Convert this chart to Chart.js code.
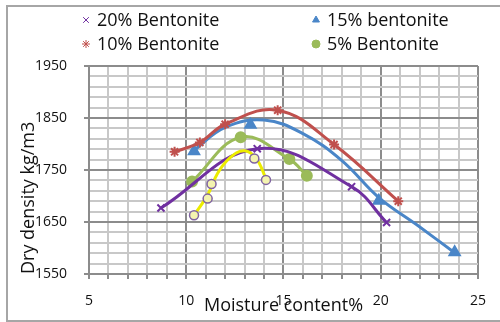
<!DOCTYPE html>
<html>
<head>
<meta charset="utf-8">
<script src="https://cdn.jsdelivr.net/npm/chart.js@4.4.1/dist/chart.umd.min.js"></script>
<style>
  html, body { margin: 0; padding: 0; background: #fff; }
</style>
</head>
<body>
<canvas id="chart" width="500" height="322"></canvas>
<script>
// moisture content (%) and dry density (kg/m3)
const seriesNames = ['20% Bentonite', '15% bentonite', '10% Bentonite', '5% Bentonite', 'Bentonite', 'Trend', '15% curve'];

const moist20 = [8.7, 13.65, 18.5, 20.3];
const dens20  = [1677, 1791, 1718, 1649];

const moist15 = [10.4, 13.3, 19.9, 23.8];
const dens15  = [1786, 1837, 1691, 1592];
// the blue curve does not run through its own markers, so it is read separately
const moist15Line = [10.4, 12.0, 14.0, 16.0, 18.0, 19.9, 21.8, 23.8];
const dens15Line  = [1788, 1832, 1846, 1820, 1768, 1697, 1646, 1591];

const moist10 = [9.4, 10.7, 12.0, 14.7, 17.6, 20.9];
const dens10  = [1785, 1803, 1838, 1865, 1799, 1690];

const moist5 = [10.3, 12.8, 15.3, 16.2];
const dens5  = [1728, 1813, 1771, 1739];

// unlabelled points (purple rings) and the yellow curve drawn over them
const moistY = [10.4, 11.1, 11.3, 13.5, 14.1];
const densY  = [1663, 1695, 1723, 1772, 1731];
const moistYLine = [10.4, 11.1, 11.6, 12.2, 12.97, 13.6, 14.1];
const densYLine  = [1663, 1702, 1743, 1772, 1787, 1772, 1733];

const xTicks = [5, 10, 15, 20, 25];
const yTicks = [1550, 1650, 1750, 1850, 1950];

const pts = (xs, ys) => xs.map((x, i) => ({ x: x, y: ys[i] }));

const purple = '#7030a0';
const blue = '#4a86c8';
const red = '#c0504d';
const green = '#9bbb59';
const yellow = '#ecec00';

const FONT = '"Open Sans", "Noto Sans", sans-serif';
const majorGrid = '#8c8c8c';
const minorGrid = '#c8c8c8';

function series(i, data, color, style, extra) {
  return Object.assign({
    label: seriesNames[i],
    data: data,
    showLine: true,
    tension: 0.4,
    borderColor: color,
    borderWidth: 3,
    backgroundColor: color,
    pointBorderColor: color,
    pointBackgroundColor: color,
    pointStyle: style,
    pointRadius: 5,
    pointBorderWidth: 2
  }, extra || {});
}

// legend in two columns, drawn above the plot
const legendPlugin = {
  id: 'twoColLegend',
  afterDraw(chart) {
    const ctx = chart.ctx;
    const spots = [[86, 20], [316, 20], [86, 44], [316, 44]];
    ctx.save();
    ctx.font = '18px ' + FONT;
    ctx.textBaseline = 'middle';
    for (let i = 0; i < 4; i++) {
      const ds = chart.data.datasets[i];
      const [x, y] = spots[i];
      ctx.strokeStyle = ds.borderColor;
      ctx.fillStyle = ds.borderColor;
      Chart.helpers.drawPoint(ctx, { pointStyle: ds.pointStyle, radius: 4, borderWidth: 2 }, x, y);
      ctx.fillStyle = '#111';
      ctx.fillText(ds.label, x + 11, y + 1);
    }
    ctx.restore();
  }
};

// grey frame round the whole chart
const framePlugin = {
  id: 'frame',
  beforeDraw(chart) {
    const ctx = chart.ctx;
    ctx.save();
    ctx.strokeStyle = '#a6a6a6';
    ctx.lineWidth = 2;
    ctx.strokeRect(7, 6, 600, 315);
    ctx.restore();
  }
};

new Chart(document.getElementById('chart'), {
  type: 'scatter',
  data: {
    datasets: [
      series(0, pts(moist20, dens20), purple, 'crossRot', { order: 1 }),
      series(1, pts(moist15, dens15), blue, 'triangle', { showLine: false, pointRadius: 6, order: 3.5 }),
      series(2, pts(moist10, dens10), red, 'star', { order: 3 }),
      series(3, pts(moist5, dens5), green, 'circle', { order: 2 }),
      series(4, pts(moistY, densY), '#8064a2', 'circle', {
        showLine: false,
        pointBackgroundColor: '#f4f4b0',
        pointBorderWidth: 1.5, pointRadius: 4.5,
        order: -3
      }),
      series(5, pts(moistYLine, densYLine), yellow, 'circle', { pointRadius: 0, order: -2 }),
      series(6, pts(moist15Line, dens15Line), blue, 'circle', { pointRadius: 0, order: 4 })
    ]
  },
  options: {
    responsive: false,
    animation: false,
    layout: { padding: { left: 12, top: 66, right: 20, bottom: 0 } },
    plugins: {
      legend: { display: false },
      tooltip: { enabled: false }
    },
    scales: {
      x: {
        type: 'linear',
        min: 5, max: 25,
        afterFit: s => { s.height = 48; },
        ticks: {
          stepSize: 1,
          autoSkip: false,
          maxRotation: 0,
          padding: 14,
          color: '#111',
          font: { family: FONT, size: 14 },
          callback: v => xTicks.includes(v) ? v : ''
        },
        grid: {
          color: c => xTicks.includes(c.tick.value) ? majorGrid : minorGrid,
          lineWidth: 2,
          tickLength: 5,
          tickColor: majorGrid
        },
        border: { color: majorGrid, width: 2 },
        title: {
          display: true,
          text: 'Moisture content%',
          color: '#111',
          font: { family: FONT, size: 18 },
          padding: { top: 0, bottom: 5 }
        }
      },
      y: {
        type: 'linear',
        min: 1550, max: 1950,
        afterFit: s => { s.width = 77; },
        ticks: {
          stepSize: 20,
          autoSkip: false,
          padding: 17,
          color: '#111',
          font: { family: FONT, size: 14 },
          callback: v => yTicks.includes(v) ? v : ''
        },
        grid: {
          color: c => yTicks.includes(c.tick.value) ? majorGrid : minorGrid,
          lineWidth: 2,
          tickLength: 5,
          tickColor: c => yTicks.includes(c.tick.value) ? majorGrid : 'rgba(0,0,0,0)'
        },
        border: { color: majorGrid, width: 2 },
        title: {
          display: true,
          text: 'Dry density kg/m3',
          align: 'start',
          color: '#111',
          font: { family: FONT, size: 18 },
          padding: { top: 6, bottom: 0 }
        }
      }
    }
  },
  plugins: [framePlugin, legendPlugin]
});
</script>
</body>
</html>
